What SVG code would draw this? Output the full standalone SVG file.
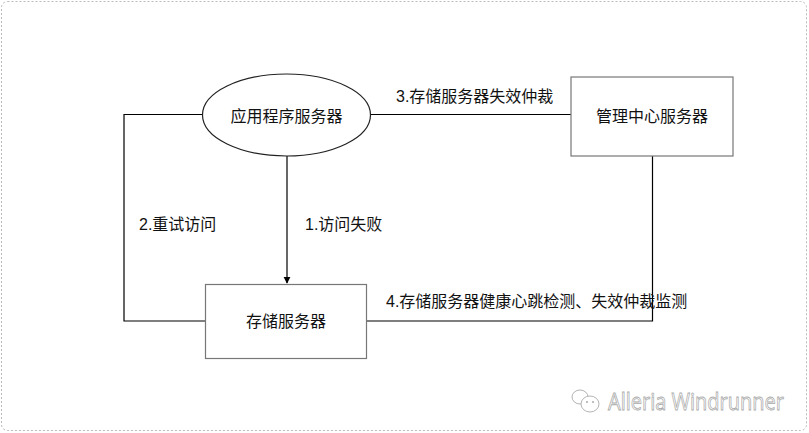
<svg xmlns="http://www.w3.org/2000/svg" width="809" height="433" viewBox="0 0 809 433">
<defs>
<style>
.t{font-family:"Liberation Sans","Noto Sans CJK SC",sans-serif;font-size:16px;fill:#111;}
.n{fill:#fff;stroke:#777;stroke-width:1.2;}
.c{fill:none;stroke:#000;stroke-width:1.2;}
.wm{font-family:"Open Sans","Noto Sans",sans-serif;font-size:23px;fill:#fff;stroke:#aaa;stroke-width:0.8;}
</style>
<marker id="ah" viewBox="0 0 10 10" refX="9" refY="5" markerWidth="7" markerHeight="8" markerUnits="userSpaceOnUse" orient="auto">
<path d="M0,0 L10,5 L0,10 Z" fill="#000"/>
</marker>
</defs>
<rect x="0" y="0" width="809" height="433" fill="#fff"/>
<rect x="1.5" y="1.5" width="805" height="429" rx="6" fill="none" stroke="#bbb" stroke-width="1" stroke-dasharray="2,2"/>
<g id="connectors">
<path class="c" d="M202,114.5 H124 V321 H205.5"/>
<path class="c" d="M370,114.5 H571"/>
<path class="c" d="M367,321 H652.5 V156"/>
<path class="c" d="M287,156 V283" marker-end="url(#ah)"/>
<text class="t" x="396" y="102">3.存储服务器失效仲裁</text>
<text class="t" x="139" y="230">2.重试访问</text>
<text class="t" x="305" y="230">1.访问失败</text>
<text class="t" x="386" y="307">4.存储服务器健康心跳检测、失效仲裁监测</text>
</g>
<g id="app-server">
<ellipse cx="286.5" cy="115" rx="84" ry="41" fill="#fff" stroke="#222" stroke-width="1.2"/>
<text class="t" x="286.5" y="122" text-anchor="middle">应用程序服务器</text>
</g>
<g id="mgmt-server">
<rect class="n" x="571" y="77" width="162" height="79"/>
<text class="t" x="652" y="122" text-anchor="middle">管理中心服务器</text>
</g>
<g id="storage-server">
<rect class="n" x="205.5" y="284.5" width="161" height="74"/>
<text class="t" x="286" y="327" text-anchor="middle">存储服务器</text>
</g>
<g id="watermark">
<ellipse cx="580" cy="397" rx="8" ry="7" fill="#fff" stroke="#aaa" stroke-width="0.9"/>
<ellipse cx="590" cy="404" rx="9" ry="8" fill="#fff" stroke="#aaa" stroke-width="0.9"/>
<circle cx="587" cy="402" r="1" fill="#aaa"/>
<circle cx="593" cy="402" r="1" fill="#aaa"/>
<text class="wm" x="608" y="410" textLength="176" lengthAdjust="spacingAndGlyphs">Alleria Windrunner</text>
</g>
</svg>
